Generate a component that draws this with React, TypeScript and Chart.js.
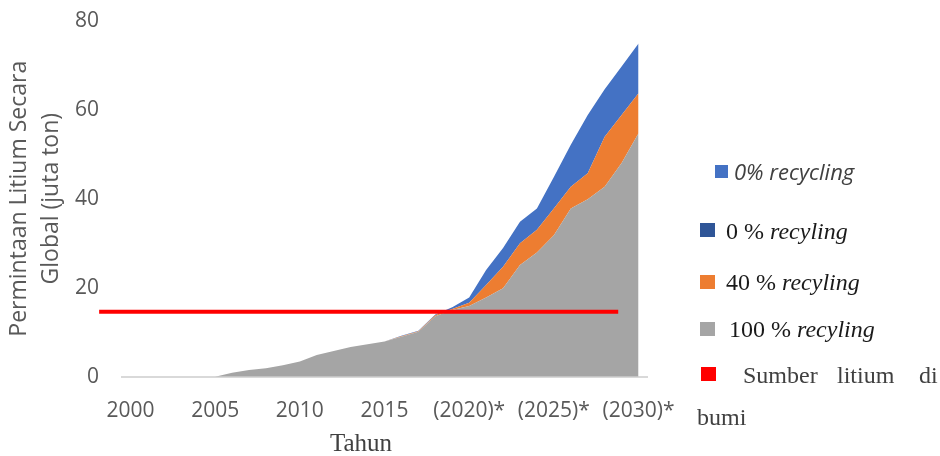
import React, { useEffect, useRef } from 'react';
import { Chart, registerables } from 'chart.js';
Chart.register(...registerables);

const years = [2000, 2001, 2002, 2003, 2004, 2005, 2006, 2007, 2008, 2009, 2010, 2011, 2012, 2013, 2014, 2015, 2016, 2017, 2018, 2019, 2020, 2021, 2022, 2023, 2024, 2025, 2026, 2027, 2028, 2029, 2030];
const gray100 = [0, 0, 0, 0, 0, 0, 0.9, 1.5, 1.9, 2.6, 3.4, 4.9, 5.8, 6.7, 7.3, 7.9, 9.0, 10.1, 13.6, 15.0, 15.9, 17.8, 19.9, 25.1, 27.9, 31.8, 37.8, 39.9, 42.7, 48.0, 54.7];
const orange40 = [0, 0, 0, 0, 0, 0, 0, 0, 0, 0, 0, 0, 0, 0, 0, 0, 0.1, 0.1, 0.2, 0.2, 0.7, 2.8, 4.8, 4.9, 5.1, 6.0, 4.9, 5.8, 11.2, 10.8, 9.0];
const blue0 = [0, 0, 0, 0, 0, 0, 0, 0, 0, 0, 0, 0, 0, 0, 0, 0, 0.1, 0.1, 0.2, 0.4, 1.2, 3.4, 4.2, 4.8, 4.8, 7.1, 9.4, 13.1, 10.7, 10.9, 11.2];
const sourceLineX = [1998.15, 2028.8];
const sourceLineY = [14.6, 14.6];
const xTickYears = [2000, 2005, 2010, 2015, 2020, 2025, 2030];
const xTickLabels = ['2000', '2005', '2010', '2015', '(2020)*', '(2025)*', '(2030)*'];
const yTitle = ['Permintaan Litium Secara', 'Global (juta ton)'];
const xTitle = 'Tahun';

const COLORS = { gray: '#A5A5A5', orange: '#ED7D31', blue: '#4472C4', darkBlue: '#2F5597', red: '#FF0000' };

export default function App() {
  const ref = useRef<HTMLCanvasElement | null>(null);
  useEffect(() => {
    if (!ref.current) return;
    const toPts = (arr: number[]) => arr.map((v, i) => ({ x: years[i], y: v }));
    const chart = new Chart(ref.current, {
      type: 'line',
      data: {
        datasets: [
          {
            label: 'Sumber litium di bumi',
            data: sourceLineX.map((x, i) => ({ x, y: sourceLineY[i] })),
            borderColor: COLORS.red,
            borderWidth: 4,
            pointRadius: 0,
            fill: false,
            stack: 'source',
            clip: false as any,
          },
          {
            label: '100 % recyling',
            data: toPts(gray100),
            backgroundColor: COLORS.gray,
            borderWidth: 0,
            borderColor: 'rgba(0,0,0,0)',
            pointRadius: 0,
            fill: 'origin',
            stack: 'demand',
          },
          {
            label: '40 % recyling',
            data: toPts(orange40),
            backgroundColor: COLORS.orange,
            borderWidth: 0,
            borderColor: 'rgba(0,0,0,0)',
            pointRadius: 0,
            fill: '-1',
            stack: 'demand',
          },
          {
            label: '0 % recyling',
            data: toPts(blue0),
            backgroundColor: COLORS.blue,
            borderWidth: 0,
            borderColor: 'rgba(0,0,0,0)',
            pointRadius: 0,
            fill: '-1',
            stack: 'demand',
          },
        ],
      },
      options: {
        responsive: false,
        maintainAspectRatio: false,
        animation: false,
        layout: { padding: { left: 0, right: 293, top: 20.7, bottom: 0 } },
        plugins: { legend: { display: false }, tooltip: { enabled: false } },
        scales: {
          x: {
            type: 'linear',
            min: 1999.5,
            max: 2030.5,
            grid: { display: false, drawTicks: false },
            border: { display: true, color: '#D9D9D9', width: 2 },
            afterBuildTicks: (s: any) => {
              s.ticks = xTickYears.map((v) => ({ value: v }));
            },
            afterFit: (s: any) => {
              s.height = 456 - 376.7;
            },
            ticks: {
              autoSkip: false,
              maxRotation: 0,
              padding: 22,
              color: '#595959',
              font: { family: 'Open Sans', size: 21 },
              callback: (v: any) => {
                const i = xTickYears.indexOf(Number(v));
                return i >= 0 ? xTickLabels[i] : '';
              },
            },
          },
          y: {
            stacked: true,
            min: 0,
            max: 80,
            grid: { display: false, drawTicks: false },
            border: { display: false },
            afterFit: (s: any) => {
              s.width = 122;
              s.paddingTop = 0;
              s.paddingBottom = 0;
            },
            ticks: {
              stepSize: 20,
              padding: 23,
              color: '#595959',
              font: { family: 'Open Sans', size: 21 },
            },
            title: {
              display: true,
              text: yTitle,
              color: '#595959',
              font: { family: 'Open Sans', size: 23, lineHeight: '31.7px' },
              padding: { top: 4, bottom: 0 },
            },
          },
        },
      } as any,
    });
    return () => chart.destroy();
  }, []);

  const serif = '"Liberation Serif", "Times New Roman", serif';
  const sq = (left: number, top: number, color: string, w = 15, h = 14) => (
    <div style={{ position: 'absolute', left, top, width: w, height: h, background: color }} />
  );
  const txt = (left: number, cy: number, children: React.ReactNode, extra: React.CSSProperties = {}) => (
    <div style={{ position: 'absolute', left, top: cy - 15, height: 30, lineHeight: '30px', whiteSpace: 'nowrap', fontFamily: serif, fontSize: 24, color: '#1a1a1a', ...extra }}>{children}</div>
  );

  return (
    <div style={{ position: 'fixed', left: 0, top: 0, width: 940, height: 456, background: '#fff', overflow: 'hidden' }}>
      <canvas ref={ref} width={940} height={456} style={{ position: 'absolute', left: 0, top: 0, width: 940, height: 456 }} />
      <div style={{ position: 'absolute', left: 361 - 50, top: 443 - 16, width: 100, textAlign: 'center', lineHeight: '32px', fontFamily: serif, fontSize: 25, color: '#404040' }}>{xTitle}</div>
      {sq(715, 165, COLORS.blue, 13, 13)}
      {txt(734, 170.5, '0% recycling', { fontFamily: '"Open Sans", sans-serif', fontStyle: 'italic', fontSize: 22, color: '#404040' })}
      {sq(700, 223, COLORS.darkBlue)}
      {txt(726, 230.7, <>0 % <i>recyling</i></>)}
      {sq(700, 275, COLORS.orange)}
      {txt(726, 281.7, <>40 % <i>recyling</i></>)}
      {sq(700, 322, COLORS.gray)}
      {txt(729, 329.3, <>100 % <i>recyling</i></>)}
      {sq(701, 367, COLORS.red)}
      {txt(743, 375, 'Sumber', { color: '#404040' })}
      {txt(837, 375, 'litium', { color: '#404040' })}
      {txt(919, 375, 'di', { color: '#404040' })}
      {txt(697, 416.7, 'bumi', { color: '#404040' })}
    </div>
  );
}
